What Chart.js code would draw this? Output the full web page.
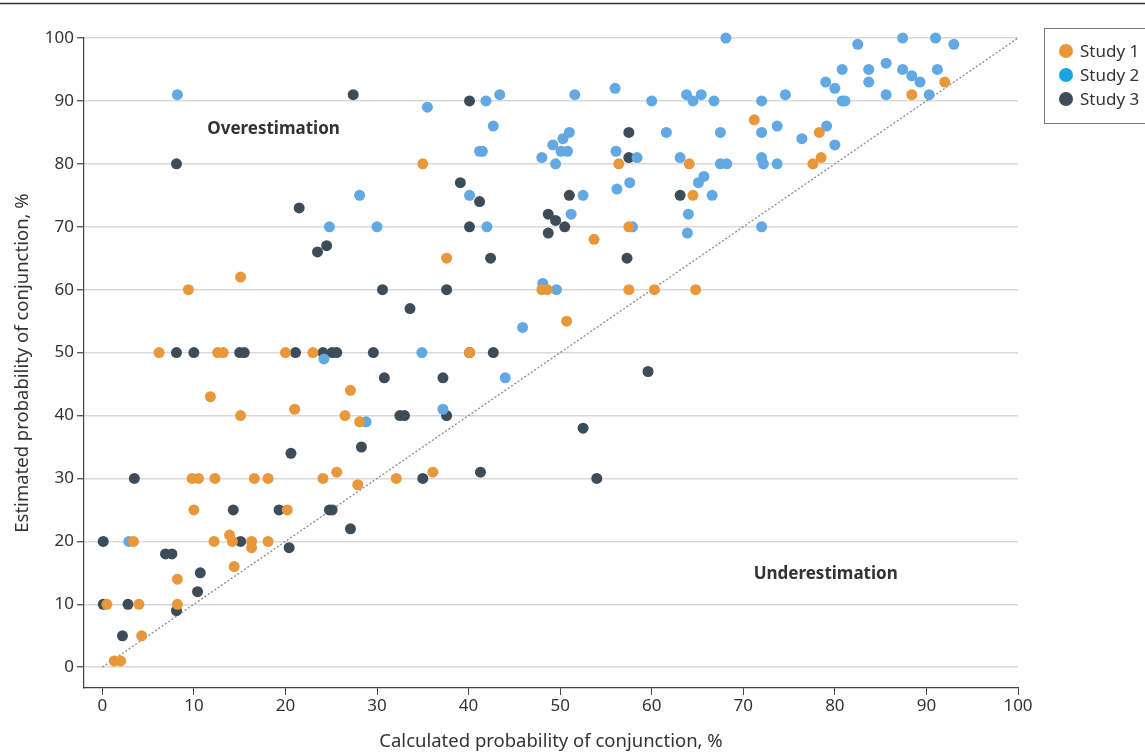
<!DOCTYPE html>
<html><head><meta charset="utf-8">
<script src="https://cdn.jsdelivr.net/npm/chart.js@4.4.0/dist/chart.umd.min.js"></script>
<style>html,body{margin:0;padding:0;background:#fff}#wrap{width:1145px;height:753px;position:relative}</style>
</head><body><div id="wrap"><canvas id="c" width="1145" height="753"></canvas></div>
<script>
const seriesNames = ["Study 1", "Study 2", "Study 3"];
const study1X = [15.1,9.4,6.2,12.6,13.2,20.0,23.0,40.1,11.8,15.1,21.0,26.5,27.1,28.1,9.8,10.5,12.3,16.6,18.1,24.1,25.6,27.9,32.1,36.1,10.0,20.2,3.4,12.2,13.9,14.2,16.3,16.3,18.1,14.4,8.2,0.5,4.0,8.2,4.3,1.3,2.0,35.0,37.6,48.0,48.6,57.5,60.3,64.8,50.7,53.7,57.5,56.4,64.1,64.5,71.2,78.3,77.6,78.5,88.4,92.0];
const study1Y = [62,60,50,50,50,50,50,50,43,40,41,40,44,39,30,30,30,30,30,30,31,29,30,31,25,25,20,20,21,20,20,19,20,16,14,10,10,10,5,1,1,80,65,60,60,60,60,60,55,68,70,80,80,75,87,85,80,81,91,93];
const study2X = [8.2,2.9,24.2,34.9,28.8,37.2,35.5,41.2,28.1,40.1,24.8,30.0,41.9,43.4,51.6,56.0,60.0,42.7,41.5,48.0,49.5,49.2,50.3,51.0,50.1,50.8,56.1,58.4,61.6,52.5,56.2,57.6,51.2,42.0,57.9,48.1,49.6,45.9,44.0,68.1,82.5,80.8,79.0,80.0,80.8,81.1,63.8,64.5,65.4,66.8,72.0,74.6,73.7,67.5,72.0,76.4,79.1,80.0,63.1,67.5,68.2,72.0,72.2,73.7,65.7,65.1,66.6,64.0,63.9,72.0,87.4,91.0,93.0,83.7,85.6,87.4,88.4,89.3,91.2,83.7,85.6,90.3];
const study2Y = [91,20,49,50,39,41,89,82,75,75,70,70,90,91,91,92,90,86,82,81,80,83,84,85,82,82,82,81,85,75,76,77,72,70,70,61,60,54,46,100,99,95,93,92,90,90,91,90,91,90,90,91,86,85,85,84,86,83,81,80,80,81,80,80,78,77,75,72,69,70,100,100,99,95,96,95,94,93,95,93,91,91];
const study3X = [8.1,27.4,40.1,39.1,41.2,21.5,40.1,23.5,24.5,30.6,37.6,33.6,8.1,10.0,15.0,15.5,21.1,24.1,25.1,25.6,29.6,40.1,42.7,30.8,37.2,32.5,33.0,37.6,20.6,28.3,35.0,41.3,3.5,14.3,19.3,24.8,25.1,27.1,0.1,15.1,20.4,6.9,7.6,10.7,10.4,0.1,2.8,8.1,2.2,57.5,57.5,51.0,48.7,49.5,50.5,48.7,42.4,57.3,59.6,52.5,54.0,63.1];
const study3Y = [80,91,90,77,74,73,70,66,67,60,60,57,50,50,50,50,50,50,50,50,50,50,50,46,46,40,40,40,34,35,30,31,30,25,25,25,25,22,20,20,19,18,18,15,12,10,10,9,5,85,81,75,72,71,70,69,65,65,47,38,30,75];
const diagonalX = [0, 100];
const diagonalY = [0, 100];
const xTicks = [0,10,20,30,40,50,60,70,80,90,100];
const yTicks = [0,10,20,30,40,50,60,70,80,90,100];
const xTitle = "Calculated probability of conjunction, %";
const yTitle = "Estimated probability of conjunction, %";
const noteLabels = ["Overestimation", "Underestimation"];
const noteX = [18.7, 79.0];
const noteY = [85.5, 14.8];

const pointColors = ["#E8983A", "#62A8E2", "#3C4D59"];
const legendColors = ["#E8983A", "#18A5E3", "#3C4D59"];
const FONT = "'Noto Sans','Open Sans','DejaVu Sans',sans-serif";
const TXT = "#333333";

function pts(xs, ys){ return xs.map((x,i)=>({x:x, y:ys[i]})); }

const extras = {
  id: 'extras',
  afterDraw(chart){
    const ctx = chart.ctx, xs = chart.scales.x, ys = chart.scales.y;
    ctx.save();
    ctx.strokeStyle = '#333'; ctx.lineWidth = 1.5;
    ctx.beginPath(); ctx.moveTo(0, 3.5); ctx.lineTo(1145, 3.5); ctx.stroke();
    ctx.fillStyle = TXT; ctx.font = "bold 17px " + FONT;
    ctx.textAlign = 'center'; ctx.textBaseline = 'middle';
    noteLabels.forEach((t,i)=>ctx.fillText(t, xs.getPixelForValue(noteX[i]), ys.getPixelForValue(noteY[i])));
    ctx.strokeStyle = '#777'; ctx.lineWidth = 1;
    ctx.strokeRect(1044.5, 28.5, 110, 95);
    ctx.font = "17px " + FONT; ctx.textAlign = 'left';
    seriesNames.forEach((n,i)=>{
      const cy = 51 + i*24;
      ctx.fillStyle = legendColors[i];
      ctx.beginPath(); ctx.arc(1066, cy, 7, 0, Math.PI*2); ctx.fill();
      ctx.fillStyle = TXT; ctx.fillText(n, 1080, cy+1);
    });
    ctx.restore();
  }
};

const datasets = [
  {label: seriesNames[0], data: pts(study1X, study1Y), backgroundColor: pointColors[0]},
  {label: seriesNames[1], data: pts(study2X, study2Y), backgroundColor: pointColors[1]},
  {label: seriesNames[2], data: pts(study3X, study3Y), backgroundColor: pointColors[2]},
].map(d=>Object.assign(d, {pointRadius: 5.5, pointHoverRadius: 5.5, borderWidth: 0, pointBorderWidth: 0, clip: false}));
datasets.push({type:'line', label:'diag', data: pts(diagonalX, diagonalY), borderColor:'#8a8a8a', borderWidth:1.3, borderDash:[2,2], pointRadius:0, fill:false});

new Chart(document.getElementById('c'), {
  type: 'scatter',
  data: {datasets},
  plugins: [extras],
  options: {
    responsive: false, animation: false, devicePixelRatio: 1,
    layout: {padding: {left: 0, right: 127, top: 38, bottom: 0}},
    plugins: {legend: {display: false}, tooltip: {enabled: false}},
    scales: {
      x: {
        type: 'linear', min: -2, max: 100,
        afterBuildTicks: s => { s.ticks = xTicks.map(v=>({value:v})); },
        afterFit: s => { s.height = 65; },
        grid: {drawOnChartArea: false, drawTicks: true, tickLength: 7, color: '#444', tickColor: '#444'},
        border: {display: true, color: '#444', width: 1.2},
        ticks: {color: TXT, font: {family: FONT, size: 17}, padding: 1, maxRotation: 0},
        title: {display: true, text: xTitle, color: TXT, font: {family: FONT, size: 18.5}, padding: {top: 4, bottom: 0}}
      },
      y: {
        type: 'linear', min: -3.3, max: 100,
        afterBuildTicks: s => { s.ticks = yTicks.map(v=>({value:v})); },
        afterFit: s => { s.width = 84; },
        grid: {drawOnChartArea: true, drawTicks: true, tickLength: 7, color: '#d9d9d9', lineWidth: 1.5, tickColor: '#444', tickWidth: 1.2},
        border: {display: true, color: '#444', width: 1.2},
        ticks: {color: TXT, font: {family: FONT, size: 17}, padding: 3},
        title: {display: true, text: yTitle, color: TXT, font: {family: FONT, size: 18.5}, padding: {top: 12, bottom: 4}}
      }
    }
  }
});
</script></body></html>
